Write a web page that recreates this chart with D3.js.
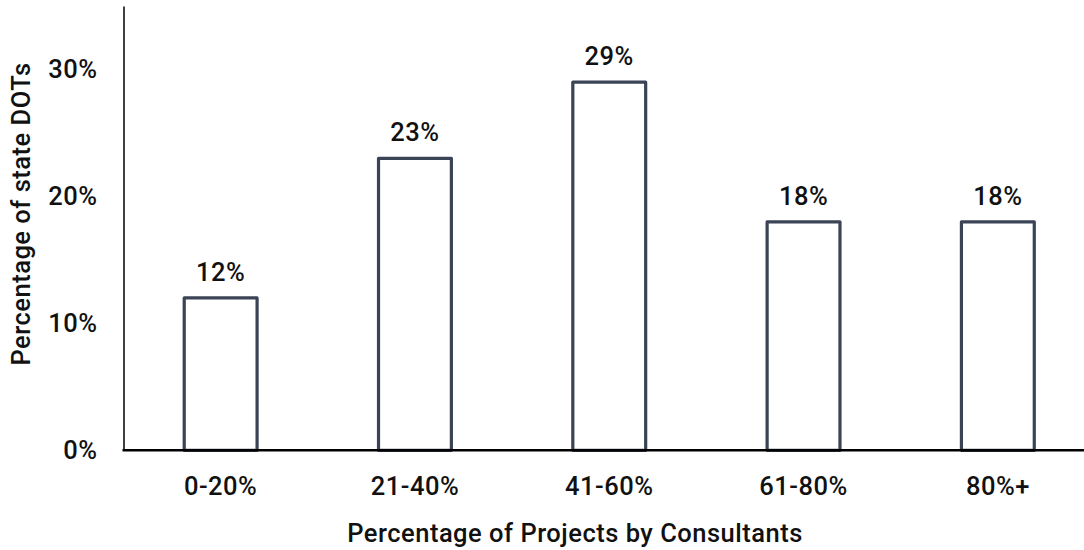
<!DOCTYPE html>
<html>
<head>
<meta charset="utf-8">
<script src="https://cdn.jsdelivr.net/npm/d3@7"></script>
<style>
  html, body { margin: 0; padding: 0; background: #fff; }
  svg { display: block; }
  text { font-family: Roboto, "Noto Sans", sans-serif; font-weight: 500; fill: #111; letter-spacing: 0.5px; }
</style>
</head>
<body>
<svg id="chart" width="1084" height="550"></svg>
<script>
// Share of state DOTs by the percentage of projects handled by consultants
const categories = ["0-20%", "21-40%", "41-60%", "61-80%", "80%+"];
const shares = [12, 23, 29, 18, 18];
const yTicks = [0, 10, 20, 30];
const xTitle = "Percentage of Projects by Consultants";
const yTitle = "Percentage of state DOTs";

const svg = d3.select("#chart");
const W = 1084;
const FS = "25.5px";
const plotLeft = 123.5, plotRight = 1095, plotTop = 6, plotBottom = 450.3;

const x = d3.scaleBand()
  .domain(categories)
  .range([plotLeft, plotRight])
  .paddingInner(0.625)
  .paddingOuter(0.3125);

const y = d3.scaleLinear()
  .domain([0, 35])
  .range([plotBottom, plotTop]);

// y axis: thin vertical rule with percent labels
const yAxis = svg.append("g")
  .attr("transform", `translate(${plotLeft},0)`)
  .call(d3.axisLeft(y).tickValues(yTicks).tickFormat(d => d + "%")
    .tickSize(0).tickSizeOuter(0).tickPadding(26));
yAxis.select(".domain").attr("stroke", "#000").attr("stroke-width", 1.5);
yAxis.selectAll(".tick text")
  .style("font-size", FS)
  .attr("fill", "#111");

// bars: outlined columns
svg.append("g")
  .selectAll("rect")
  .data(shares)
  .join("rect")
  .attr("x", (d, i) => x(categories[i]))
  .attr("y", d => y(d))
  .attr("width", x.bandwidth())
  .attr("height", d => y(0) - y(d))
  .attr("fill", "#fff")
  .attr("stroke", "#3a4455")
  .attr("stroke-width", 3.2)
  .attr("stroke-linejoin", "round");

// value labels above each bar
svg.append("g")
  .selectAll("text")
  .data(shares)
  .join("text")
  .attr("x", (d, i) => x(categories[i]) + x.bandwidth() / 2)
  .attr("y", d => y(d) - 17)
  .attr("text-anchor", "middle")
  .style("font-size", FS)
  .text(d => d + "%");

// x axis: heavy baseline with category labels
const xAxis = svg.append("g")
  .attr("transform", `translate(0,${plotBottom})`)
  .call(d3.axisBottom(x).tickSize(0).tickSizeOuter(0).tickPadding(26.5));
xAxis.select(".domain").attr("stroke", "#000").attr("stroke-width", 2.6)
  .attr("d", `M${plotLeft - 1},0H${W}`);
xAxis.selectAll(".tick text")
  .style("font-size", FS)
  .attr("fill", "#111");

// axis titles
svg.append("text")
  .attr("x", 575)
  .attr("y", 542)
  .attr("text-anchor", "middle")
  .style("font-size", FS)
  .text(xTitle);

svg.append("text")
  .attr("transform", `translate(30,214) rotate(-90)`)
  .attr("text-anchor", "middle")
  .style("font-size", FS)
  .text(yTitle);
</script>
</body>
</html>
